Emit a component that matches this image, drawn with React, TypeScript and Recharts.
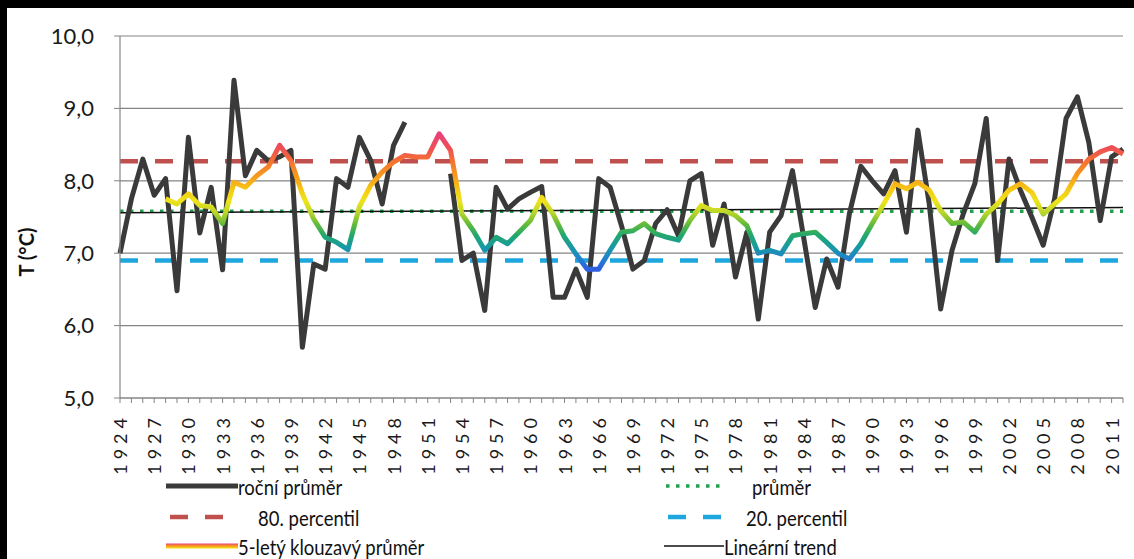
import React from 'react';
import { ComposedChart, Line, XAxis, YAxis, CartesianGrid, ReferenceLine } from 'recharts';

// years 1924-2012
const years: number[] = [
  1924, 1925, 1926, 1927, 1928, 1929, 1930, 1931, 1932, 1933,
  1934, 1935, 1936, 1937, 1938, 1939, 1940, 1941, 1942, 1943,
  1944, 1945, 1946, 1947, 1948, 1949, 1950, 1951, 1952, 1953,
  1954, 1955, 1956, 1957, 1958, 1959, 1960, 1961, 1962, 1963,
  1964, 1965, 1966, 1967, 1968, 1969, 1970, 1971, 1972, 1973,
  1974, 1975, 1976, 1977, 1978, 1979, 1980, 1981, 1982, 1983,
  1984, 1985, 1986, 1987, 1988, 1989, 1990, 1991, 1992, 1993,
  1994, 1995, 1996, 1997, 1998, 1999, 2000, 2001, 2002, 2003,
  2004, 2005, 2006, 2007, 2008, 2009, 2010, 2011, 2012,
];

// roční průměr (no data 1950-1952)
const annualMean: (number | null)[] = [
  7.0, 7.75, 8.3, 7.8, 8.03, 6.48, 8.6, 7.28, 7.91, 6.77,
  9.39, 8.07, 8.42, 8.28, 8.33, 8.42, 5.7, 6.85, 6.78, 8.03,
  7.91, 8.6, 8.28, 7.68, 8.49, 8.81, null, null, null, 8.1,
  6.9, 7.0, 6.21, 7.91, 7.61, 7.75, 7.84, 7.92, 6.39, 6.39,
  6.78, 6.39, 8.03, 7.91, 7.38, 6.78, 6.9, 7.41, 7.6, 7.24,
  8.0, 8.1, 7.11, 7.68, 6.67, 7.29, 6.09, 7.29, 7.52, 8.14,
  7.2, 6.25, 6.92, 6.53, 7.55, 8.2, 8.0, 7.82, 8.14, 7.29,
  8.7, 7.68, 6.23, 7.04, 7.55, 7.96, 8.86, 6.9, 8.3, 7.87,
  7.5, 7.11, 7.75, 8.86, 9.16, 8.53, 7.45, 8.33, 8.44,
];

// 5-letý klouzavý průměr
const movingAvg: (number | null)[] = [
  null, null, null, null, 7.75, 7.68, 7.82, 7.66, 7.64, 7.41,
  7.98, 7.91, 8.07, 8.19, 8.49, 8.28, 7.82, 7.47, 7.22, 7.15,
  7.05, 7.64, 7.94, 8.12, 8.26, 8.35, 8.33, 8.33, 8.65, 8.42,
  7.54, 7.31, 7.04, 7.22, 7.13, 7.29, 7.45, 7.77, 7.54, 7.22,
  6.99, 6.78, 6.78, 7.04, 7.29, 7.31, 7.41, 7.27, 7.22, 7.18,
  7.45, 7.66, 7.59, 7.59, 7.52, 7.38, 7.0, 7.04, 6.99, 7.24,
  7.27, 7.29, 7.15, 7.0, 6.92, 7.13, 7.41, 7.68, 7.96, 7.89,
  7.98, 7.87, 7.59, 7.41, 7.43, 7.29, 7.54, 7.68, 7.87, 7.96,
  7.84, 7.54, 7.68, 7.82, 8.1, 8.3, 8.4, 8.46, 8.37,
];

const percentile80 = 8.27;
const percentile20 = 6.9;
const longTermMean = 7.58;
const trendEnds: [number, number] = [7.56, 7.63];

const yTicks = [5, 6, 7, 8, 9, 10];

// colour of the moving average by temperature
const maColorStops: [number, string][] = [
  [8.65, '#e8407a'],
  [8.45, '#ee4f55'],
  [8.25, '#f4762e'],
  [8.05, '#f79e1c'],
  [7.88, '#f5c814'],
  [7.72, '#efe41a'],
  [7.56, '#b9d62a'],
  [7.4, '#62bb3a'],
  [7.25, '#22a86c'],
  [7.1, '#179ba0'],
  [6.95, '#1f86c8'],
  [6.78, '#2f5fe0'],
];

const data = years.map((y, i) => ({
  year: String(y),
  annual: annualMean[i],
  ma: movingAvg[i],
}));

const font = 'Lato, "Liberation Sans", sans-serif';
const gridColor = '#858585';

const XTick = (props: any) => {
  const { x, y, payload, index } = props;
  if (index % 3 !== 0) return null;
  const ty = y + 8;
  return (
    <text
      x={x}
      y={ty}
      transform={`rotate(-90 ${x} ${ty})`}
      textAnchor="end"
      dominantBaseline="central"
      fontSize={18}
      letterSpacing={5}
      fill="#1a1a1a"
      fontFamily={font}
    >
      {payload.value}
    </text>
  );
};

const LegendItem = ({ left, top, swatch, label }: { left: number; top: number; swatch: React.ReactNode; label: string }) => (
  <div style={{ position: 'absolute', left, top, display: 'flex', alignItems: 'center', height: 24 }}>
    {swatch}
    <span style={{ fontFamily: font, fontSize: 21, color: '#111', whiteSpace: 'nowrap', display: 'inline-block', transform: 'scaleX(0.88)', transformOrigin: 'left center' }}>
      {label}
    </span>
  </div>
);

const App = () => {
  const maMax = Math.max(...(movingAvg.filter((v) => v !== null) as number[]));
  const maMin = Math.min(...(movingAvg.filter((v) => v !== null) as number[]));

  return (
    <div style={{ position: 'absolute', left: 0, top: 0, width: 1134, height: 559, background: '#fff', overflow: 'hidden' }}>
      <svg width={0} height={0} style={{ position: 'absolute' }}>
        <defs>
          <linearGradient id="maGrad" x1="0" y1="0" x2="0" y2="1">
            {maColorStops.map(([v, c]) => (
              <stop key={v} offset={(maMax - v) / (maMax - maMin)} stopColor={c} />
            ))}
          </linearGradient>
          <linearGradient id="maLegend" x1="0" y1="0" x2="0" y2="1">
            <stop offset="0" stopColor="#e8407a" />
            <stop offset="0.5" stopColor="#f79e1c" />
            <stop offset="1" stopColor="#efe41a" />
          </linearGradient>
        </defs>
      </svg>

      <ComposedChart width={1134} height={559} data={data} margin={{ top: 36, right: 11, bottom: 86, left: 0 }}>
        <CartesianGrid vertical={false} stroke={gridColor} strokeWidth={1.2} />
        <XAxis
          dataKey="year"
          interval={0}
          tick={<XTick />}
          tickLine={{ stroke: gridColor }}
          tickSize={5}
          axisLine={{ stroke: gridColor, strokeWidth: 1.2 }}
          height={75}
        />
        <YAxis
          domain={[5, 10]}
          ticks={yTicks}
          width={120}
          tickFormatter={(v: number) => v.toFixed(1).replace('.', ',')}
          tick={{ fill: '#1a1a1a', fontSize: 22, fontFamily: font }}
          tickLine={{ stroke: gridColor }}
          tickSize={6}
          tickMargin={20}
          axisLine={{ stroke: gridColor, strokeWidth: 1.2 }}
          label={{
            value: 'T (°C)',
            position: 'insideLeft',
            content: () => (
              <text
                x={26}
                y={252}
                transform="rotate(-90 26 252)"
                textAnchor="middle"
                dominantBaseline="central"
                fontSize={20}
                fontWeight="bold"
                fill="#111"
                fontFamily={font}
              >
                T (°C)
              </text>
            ),
          }}
        />
        <ReferenceLine
          segment={[{ x: '1924', y: percentile80 }, { x: '2012', y: percentile80 }]}
          stroke="#c0504d"
          strokeWidth={4.5}
          strokeDasharray="18 17"
        />
        <ReferenceLine
          segment={[{ x: '1924', y: percentile20 }, { x: '2012', y: percentile20 }]}
          stroke="#1ea6de"
          strokeWidth={4.5}
          strokeDasharray="18 17"
        />
        <ReferenceLine
          segment={[{ x: '1924', y: longTermMean }, { x: '2012', y: longTermMean }]}
          stroke="#22a04e"
          strokeWidth={3.5}
          strokeDasharray="3.5 6.5"
        />
        <ReferenceLine
          segment={[{ x: '1924', y: trendEnds[0] }, { x: '2012', y: trendEnds[1] }]}
          stroke="#111"
          strokeWidth={1.5}
        />
        <Line
          dataKey="annual"
          stroke="#3a3a3a"
          strokeWidth={5}
          dot={false}
          connectNulls={false}
          isAnimationActive={false}
          strokeLinejoin="round"
        />
        <Line
          dataKey="ma"
          stroke="url(#maGrad)"
          strokeWidth={5}
          dot={false}
          isAnimationActive={false}
          strokeLinejoin="round"
        />
      </ComposedChart>

      <div style={{ position: 'absolute', left: 0, top: 0, width: 1134, height: 8, background: '#000' }} />
      <div style={{ position: 'absolute', left: 0, top: 0, width: 7, height: 559, background: '#000' }} />

      <LegendItem
        left={166}
        top={474}
        label="roční průměr"
        swatch={
          <svg width={72} height={10}>
            <line x1={0} y1={5} x2={72} y2={5} stroke="#3a3a3a" strokeWidth={5} />
          </svg>
        }
      />
      <LegendItem
        left={166}
        top={505}
        label="80. percentil"
        swatch={
          <svg width={92} height={10}>
            <line x1={4} y1={5} x2={68} y2={5} stroke="#c0504d" strokeWidth={4.5} strokeDasharray="18 17" />
          </svg>
        }
      />
      <LegendItem
        left={166}
        top={534}
        label="5-letý klouzavý průměr"
        swatch={
          <svg width={72} height={10}>
            <rect x={0} y={2.5} width={72} height={5} fill="url(#maLegend)" />
          </svg>
        }
      />
      <LegendItem
        left={664}
        top={474}
        label="průměr"
        swatch={
          <svg width={88} height={10}>
            <line x1={2} y1={5} x2={62} y2={5} stroke="#22a04e" strokeWidth={3.5} strokeDasharray="3.5 6.5" />
          </svg>
        }
      />
      <LegendItem
        left={664}
        top={505}
        label="20. percentil"
        swatch={
          <svg width={82} height={10}>
            <line x1={4} y1={5} x2={68} y2={5} stroke="#1ea6de" strokeWidth={4.5} strokeDasharray="18 17" />
          </svg>
        }
      />
      <LegendItem
        left={664}
        top={534}
        label="Lineární trend"
        swatch={
          <svg width={60} height={10}>
            <line x1={0} y1={5} x2={60} y2={5} stroke="#111" strokeWidth={1.5} />
          </svg>
        }
      />
    </div>
  );
};

export default App;
